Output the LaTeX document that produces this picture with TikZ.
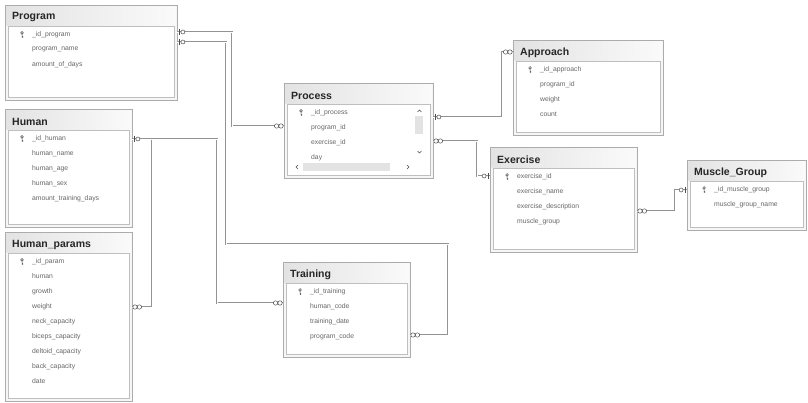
\documentclass[tikz,border=0pt]{standalone}
\usepackage{fontspec}
\setmainfont{Liberation Sans}
\usetikzlibrary{fit}
\tikzset{
 tbl/.style={draw=gray!65, line width=0.8pt, fill=gray!7, inner sep=0pt},
 inbox/.style={draw=gray!50, fill=white, line width=0.5pt},
 ttl/.style={anchor=west, inner sep=0pt, font=\bfseries\fontsize{10.5}{11}\selectfont, text=black!85},
 fld/.style={anchor=west, inner sep=0pt, font=\fontsize{6.8}{7}\selectfont, text=black!60},
 rel/.style={draw=gray!85, double=white, double distance=0.9pt, line width=0.55pt},
 mk/.style={draw=gray!60!black, line width=0.5pt, fill=white},
 infm/.pic={\draw[mk] (2.6,0) circle (2.2) (7,0) circle (2.2);},
 keym/.pic={\draw[mk] (1.5,-3)--(1.5,3); \draw[mk] (5.5,0) circle (2);},
 keyicon/.pic={\draw[gray!55!black, line width=0.5pt] (0,-1.6) circle (1.3) (0,-0.3)--(0,3.2) (0,1.8)--(1.1,1.8) (0,3)--(1.1,3);},
}
\newcommand{\dbtable}[7]{%
  \node[tbl, fit={(#2,#3) (#4,#5)}] (#1) {};
  \shade[left color=gray!22, right color=gray!4] (#2+1.5,#3+1.5) rectangle (#4-1.5,#3+21);
  \draw[inbox] (#2+3,#3+21) rectangle (#4-3,#5-3);
  \node[ttl] (#1-t) at (#2+7,#3+12.5) {#6};
  \foreach \f [count=\i] in {#7} {\node[fld] (#1-f\i) at (#2+27,#3+14.5+15*\i) {\f};}
  \pic at (#2+17,#3+29.5) {keyicon};
}
\begin{document}
\begin{tikzpicture}[x=1pt,y=-1pt]
\useasboundingbox (0,0) rectangle (808,403);
\fill[white] (0,0) rectangle (808,403);

\dbtable{prog}{5}{5}{177}{100}{Program}{\_id\_program,program\_name,amount\_of\_days}
\dbtable{hum}{5}{109}{132}{227}{Human}{\_id\_human,human\_name,human\_age,human\_sex,amount\_training\_days}
\dbtable{hp}{5}{232}{132}{401}{Human\_params}{\_id\_param,human,growth,weight,neck\_capacity,biceps\_capacity,deltoid\_capacity,back\_capacity,date}
\dbtable{proc}{284}{83}{433}{178}{Process}{\_id\_process,program\_id,exercise\_id,day}
\dbtable{appr}{513}{40}{663}{135}{Approach}{\_id\_approach,program\_id,weight,count}
\dbtable{exer}{490}{147}{637}{252}{Exercise}{exercise\_id,exercise\_name,exercise\_description,muscle\_group}
\dbtable{mus}{687}{160}{806}{230}{Muscle\_Group}{\_id\_muscle\_group,muscle\_group\_name}
\dbtable{trn}{283}{262}{410}{357}{Training}{\_id\_training,human\_code,training\_date,program\_code}

% Process scroll bars
\fill[gray!22] (415,116) rectangle (423,134);
\fill[gray!22] (303,163) rectangle (390,171);
\draw[gray!60!black, line width=0.5pt] (417.5,112) -- (419.5,110) -- (421.5,112)
  (417.5,151) -- (419.5,153) -- (421.5,151)
  (298,165) -- (296,167) -- (298,169)
  (407,165) -- (409,167) -- (407,169);

% relationships
\draw[rel] (prog.east |- 0,32) -- (232,32) |- (proc.west |- 0,126);
\draw[rel] (prog.east |- 0,42) -- (226,42) -- (226,244) -- (448,244) |- (trn.east |- 0,335);
\draw[rel] (hum.east |- 0,139) -- (152,139) |- (hp.east |- 0,307);
\draw[rel] (hum.east |- 0,139) -- (217,139) |- (trn.west |- 0,303);
\draw[rel] (proc.east |- 0,117) -- (502,117) |- (appr.west |- 0,52);
\draw[rel] (proc.east |- 0,141) -- (477,141) |- (exer.west |- 0,176);
\draw[rel] (exer.east |- 0,211) -- (675,211) |- (mus.west |- 0,190);

% end markers
\pic at (prog.east |- 0,32) {keym};
\pic at (prog.east |- 0,42) {keym};
\pic at (hum.east |- 0,139) {keym};
\pic at (proc.east |- 0,117) {keym};
\pic[rotate=180] at (exer.west |- 0,176) {keym};
\pic[rotate=180] at (mus.west |- 0,190) {keym};
\pic[rotate=180] at (proc.west |- 0,126) {infm};
\pic at (trn.east |- 0,335) {infm};
\pic at (hp.east |- 0,307) {infm};
\pic[rotate=180] at (trn.west |- 0,303) {infm};
\pic[rotate=180] at (appr.west |- 0,52) {infm};
\pic at (proc.east |- 0,141) {infm};
\pic at (exer.east |- 0,211) {infm};
\end{tikzpicture}
\end{document}
